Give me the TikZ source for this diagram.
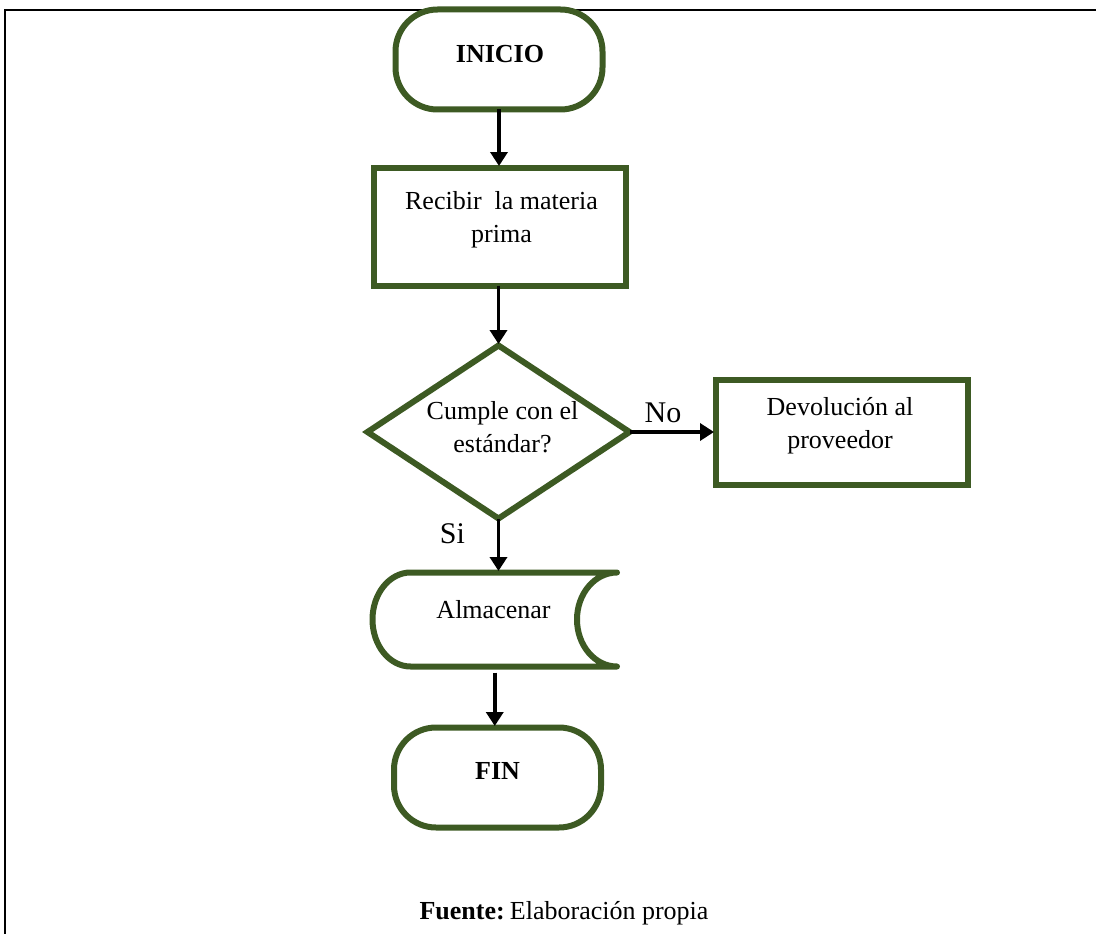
\documentclass[tikz,border=0pt]{standalone}
\usepackage{fontspec}
\setmainfont{Liberation Serif}
\usetikzlibrary{shapes.geometric,arrows.meta}
\definecolor{flowgreen}{RGB}{61,90,35}
\begin{document}
\begin{tikzpicture}[x=1pt,y=-1pt,
  outline/.style={draw=flowgreen,line width=6pt,fill=white,inner sep=0pt,outer sep=0pt},
  terminal/.style={outline,rounded corners=42pt,minimum width=207pt,minimum height=100pt},
  procbox/.style={outline,minimum width=252pt},
  decision/.style={outline,diamond,minimum width=262pt,minimum height=173pt},
  storage/.style={inner sep=0pt,outer sep=0pt,minimum width=244.5pt,minimum height=94pt},
  storeline/.style={draw=flowgreen,line width=6pt,line join=round},
  txt/.style={font=\fontsize{26}{33}\selectfont,align=center,anchor=base,inner sep=0pt},
  lbl/.style={font=\fontsize{30}{36}\selectfont,anchor=base,inner sep=0pt},
  flow/.style={draw=black,line width=3.5pt,-{Triangle[length=14pt,width=17pt]},shorten >=1.5pt},
  frameline/.style={draw=black,line width=2.5pt},
]
\useasboundingbox (0,0) rectangle (1096,934);

% page frame: top and left rules
\coordinate (fbl) at (5,934);
\coordinate (ftl) at (5,10);
\coordinate (ftr) at (1096,10);
\draw[frameline] (fbl) -- (ftl) -- (ftr);

% shapes
\node[terminal] (ini) at (499,59.5) {};
\node[procbox,minimum height=118pt] (rec) at (500,226.5) {};
\node[decision] (dia) at (498.5,432) {};
\node[procbox,minimum height=105pt] (dev) at (841.5,432) {};
\node[storage] (alm) at (494.75,619.5) {};
\draw[storeline] (alm.north east) -- ([xshift=38pt]alm.north west)
  arc[start angle=90,end angle=270,x radius=38pt,y radius=47pt]
  -- (alm.south east)
  arc[start angle=270,end angle=90,x radius=40pt,y radius=47pt] -- cycle;
\node[terminal] (fin) at (497.5,777.5) {};

% texts (multi-line nodes sit on the baseline of their last line)
\node[txt,font=\fontsize{26}{33}\selectfont\bfseries] (ini-t) at (500,63) {INICIO};
\node[txt] (rec-t) at (501.5,242) {Recibir\ \ la materia\\prima};
\node[txt] (dia-t) at (502.5,452) {Cumple con el\\estándar?};
\node[txt] (dev-t) at (840,448) {Devolución al\\proveedor};
\node[txt] (alm-t) at (493.5,618) {Almacenar};
\node[txt,font=\fontsize{26}{33}\selectfont\bfseries] (fin-t) at (497.5,779) {FIN};
\node[lbl] (no) at (663,422) {No};
\node[lbl] (si) at (452.5,543) {Si};
\node[txt] (src) at (564,919) {\textbf{Fuente:}\hspace{0.2em}Elaboración propia};

% connectors
\draw[flow] (ini.south) -- (ini.south |- rec.north);
\draw[flow] (dia.north |- rec.south) -- (dia.north);
\draw[flow] (dia.east) -- (dia.east -| dev.west);
\draw[flow] (dia.south) -- (dia.south |- alm.north);
\draw[flow] ([yshift=-6pt]alm.south) -- (alm.south |- fin.north);
\end{tikzpicture}
\end{document}
